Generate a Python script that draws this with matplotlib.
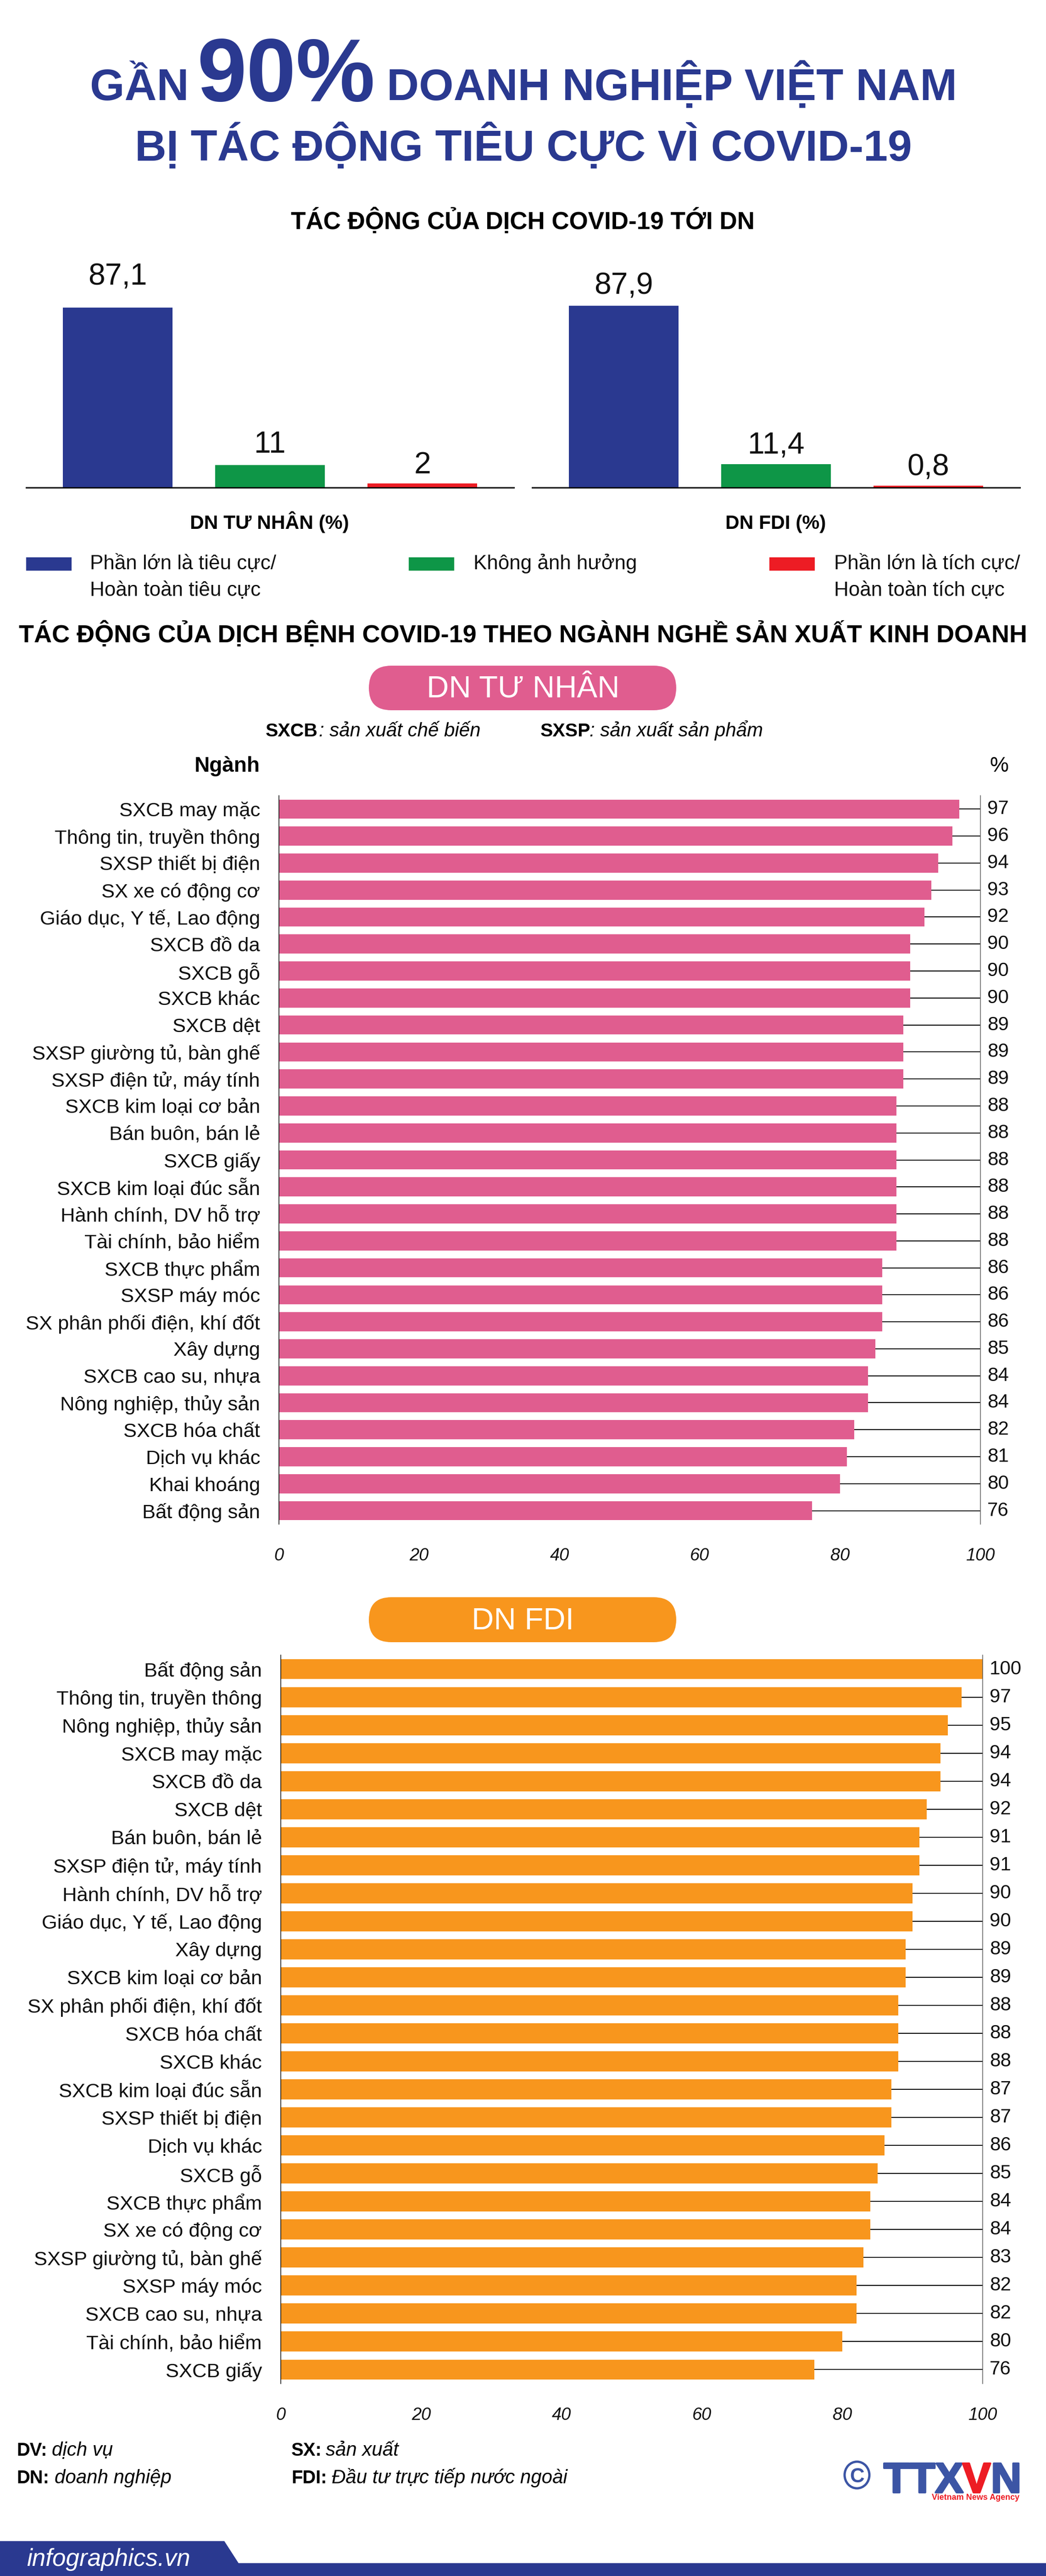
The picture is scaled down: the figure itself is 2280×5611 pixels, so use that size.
import matplotlib
matplotlib.use("Agg")
import matplotlib.pyplot as plt
import matplotlib.patheffects as pe
from matplotlib.patches import FancyBboxPatch, Polygon, Rectangle, Ellipse
from matplotlib.transforms import blended_transform_factory

W, H = 2280, 5611
DPI = 100
plt.rcParams['font.family'] = ['Liberation Sans', 'DejaVu Sans']

NAVY = '#2a3990'
GREEN = '#0e9647'
RED = '#ed1c24'
PINK = '#e05d8f'
ORANGE = '#f8961d'
LOGO = '#3c55a5'

# tong quan
impact_labels = ['Phần lớn là tiêu cực/\nHoàn toàn tiêu cực', 'Không ảnh hưởng', 'Phần lớn là tích cực/\nHoàn toàn tích cực']
private_impact = [87.1, 11, 2]
private_impact_text = ['87,1', '11', '2']
fdi_impact = [87.9, 11.4, 0.8]
fdi_impact_text = ['87,9', '11,4', '0,8']

# DN tu nhan
private_sectors = ['SXCB may mặc', 'Thông tin, truyền thông', 'SXSP thiết bị điện', 'SX xe có động cơ',
                   'Giáo dục, Y tế, Lao động', 'SXCB đồ da', 'SXCB gỗ', 'SXCB khác', 'SXCB dệt',
                   'SXSP giường tủ, bàn ghế', 'SXSP điện tử, máy tính', 'SXCB kim loại cơ bản',
                   'Bán buôn, bán lẻ', 'SXCB giấy', 'SXCB kim loại đúc sẵn', 'Hành chính, DV hỗ trợ',
                   'Tài chính, bảo hiểm', 'SXCB thực phẩm', 'SXSP máy móc', 'SX phân phối điện, khí đốt',
                   'Xây dựng', 'SXCB cao su, nhựa', 'Nông nghiệp, thủy sản', 'SXCB hóa chất',
                   'Dịch vụ khác', 'Khai khoáng', 'Bất động sản']
private_values = [97, 96, 94, 93, 92, 90, 90, 90, 89, 89, 89, 88, 88, 88, 88, 88, 88, 86, 86, 86, 85, 84, 84, 82, 81, 80, 76]

# DN FDI
fdi_sectors = ['Bất động sản', 'Thông tin, truyền thông', 'Nông nghiệp, thủy sản', 'SXCB may mặc', 'SXCB đồ da',
               'SXCB dệt', 'Bán buôn, bán lẻ', 'SXSP điện tử, máy tính', 'Hành chính, DV hỗ trợ',
               'Giáo dục, Y tế, Lao động', 'Xây dựng', 'SXCB kim loại cơ bản', 'SX phân phối điện, khí đốt',
               'SXCB hóa chất', 'SXCB khác', 'SXCB kim loại đúc sẵn', 'SXSP thiết bị điện', 'Dịch vụ khác',
               'SXCB gỗ', 'SXCB thực phẩm', 'SX xe có động cơ', 'SXSP giường tủ, bàn ghế', 'SXSP máy móc',
               'SXCB cao su, nhựa', 'Tài chính, bảo hiểm', 'SXCB giấy']
fdi_values = [100, 97, 95, 94, 94, 92, 91, 91, 90, 90, 89, 89, 88, 88, 88, 87, 87, 86, 85, 84, 84, 83, 82, 82, 80, 76]

x_ticks = [0, 20, 40, 60, 80, 100]


def pt(px):
    return px * 72 / DPI


def axes_px(fig, left, top, right, bottom):
    return fig.add_axes([left / W, 1 - bottom / H, (right - left) / W, (bottom - top) / H])


def column_chart(fig, left, right, values, texts, pads):
    ax = axes_px(fig, left, 612, right, 1062)
    ax.bar(range(3), values, width=0.72, color=[NAVY, GREEN, RED])
    ax.set_xlim(-0.6, 2.6)
    ax.set_ylim(0, 100)
    ax.set_xticks([])
    ax.set_yticks([])
    for s in ['top', 'left', 'right']:
        ax.spines[s].set_visible(False)
    ax.spines['bottom'].set_linewidth(pt(3))
    for i, (v, t) in enumerate(zip(values, texts)):
        ax.annotate(t, (i, v), xytext=(0, pt(pads[i])), textcoords='offset points',
                    ha='center', va='baseline', fontsize=pt(66), color='#111111', annotation_clip=False)
    ax.patch.set_alpha(0)


def sector_chart(fig, left, top, right, bottom, sectors, values, color, bar_h):
    ax = axes_px(fig, left, top, right, bottom)
    y = list(range(len(sectors)))
    ax.hlines(y, values, 100, color='black', lw=pt(2), zorder=1)
    ax.barh(y, values, height=bar_h, color=color, zorder=2)
    ax.set_xlim(0, 100)
    ax.set_ylim(len(sectors) - 0.5, -0.5)
    ax.set_yticks(y)
    ax.set_yticklabels(sectors, fontsize=pt(43.5), color='#111111')
    ax.set_xticks(x_ticks)
    ax.set_xticklabels(x_ticks, fontsize=pt(38), style='italic', color='#111111')
    ax.tick_params(axis='both', length=0)
    ax.tick_params(axis='y', pad=pt(41))
    ax.tick_params(axis='x', pad=pt(51))
    for s in ['top', 'bottom']:
        ax.spines[s].set_visible(False)
    ax.spines['left'].set_linewidth(pt(1.5))
    ax.spines['right'].set_linewidth(pt(1.5))
    ax.spines['right'].set_color('#555555')
    trans = blended_transform_factory(ax.transAxes, ax.transData)
    for i, v in enumerate(values):
        ax.annotate(str(v), (1, i), xycoords=trans, xytext=(pt(15), 0), textcoords='offset points',
                    ha='left', va='center', fontsize=pt(42), color='#111111', annotation_clip=False)


fig = plt.figure(figsize=(W / DPI, H / DPI), dpi=DPI, facecolor='white')

# lop nen de ve chu va hinh trang tri, toa do theo pixel
bg = fig.add_axes([0, 0, 1, 1], zorder=5)
bg.set_xlim(0, W)
bg.set_ylim(H, 0)
bg.axis('off')
bg.patch.set_alpha(0)


def label(x, y, s, size, **kw):
    kw.setdefault('color', 'black')
    kw.setdefault('va', 'baseline')
    return bg.text(x, y, s, fontsize=pt(size), **kw)


# tieu de
label(196, 218, 'GẦN', 97, color=NAVY, weight='bold')
label(429, 220, '90%', 194, color=NAVY, weight='bold')
label(843, 218, 'DOANH NGHIỆP VIỆT NAM', 97, color=NAVY, weight='bold')
label(1141, 350, 'BỊ TÁC ĐỘNG TIÊU CỰC VÌ COVID-19', 95, color=NAVY, weight='bold', ha='center')
label(1139, 499, 'TÁC ĐỘNG CỦA DỊCH COVID-19 TỚI DN', 53, weight='bold', ha='center')

column_chart(fig, 57, 1120, private_impact, private_impact_text, [50, 26, 22])
column_chart(fig, 1160, 2223, fdi_impact, fdi_impact_text, [26, 23, 23])
label(587, 1152, 'DN TƯ NHÂN (%)', 42.5, weight='bold', ha='center')
label(1691, 1152, 'DN FDI (%)', 42.5, weight='bold', ha='center')

# chu thich
for lx, tx, c, txt in zip([57, 891, 1677], [196, 1032, 1818], [NAVY, GREEN, RED], impact_labels):
    bg.add_patch(Rectangle((lx, 1214), 99, 29, color=c, lw=0))
    for k, line in enumerate(txt.split('\n')):
        label(tx, 1240 + 58 * k, line, 44, color='#111111')

label(1140, 1399, 'TÁC ĐỘNG CỦA DỊCH BỆNH COVID-19 THEO NGÀNH NGHỀ SẢN XUẤT KINH DOANH', 54, weight='bold', ha='center')


def pill(top, bottom, color, text, base):
    r = (bottom - top) / 2
    bg.add_patch(FancyBboxPatch((804 + r, top + r), 670 - 2 * r, bottom - top - 2 * r,
                                boxstyle='round,pad=%f,rounding_size=%f' % (r, r), color=color, lw=0))
    label(1140, base, text, 67, color='white', ha='center')


pill(1450, 1547, PINK, 'DN TƯ NHÂN', 1520)
pill(3479, 3577, ORANGE, 'DN FDI', 3549)

label(579, 1604, 'SXCB', 41, weight='bold')
label(695, 1604, ': sản xuất chế biến', 42, style='italic')
label(1178, 1604, 'SXSP', 41, weight='bold')
label(1285, 1604, ': sản xuất sản phẩm', 42, style='italic')
label(567, 1681, 'Ngành', 46, weight='bold', ha='right')
label(2178, 1681, '%', 46, ha='center')

sector_chart(fig, 608, 1733, 2137, 3320, private_sectors, private_values, PINK, 0.71)
sector_chart(fig, 612, 3605, 2142, 5192, fdi_sectors, fdi_values, ORANGE, 0.72)

# ghi chu cuoi
for x, y, a, b, x2 in [(36, 5349, 'DV:', 'dịch vụ', 113), (635, 5349, 'SX:', 'sản xuất', 710),
                       (36, 5409, 'DN:', 'doanh nghiệp', 119), (635, 5409, 'FDI:', 'Đầu tư trực tiếp nước ngoài', 723)]:
    label(x, y, a, 40, weight='bold')
    label(x2, y, b, 42, style='italic')

# logo TTXVN
heavy = [pe.withStroke(linewidth=pt(4), foreground=LOGO)]
bg.add_patch(Ellipse((1868, 5391), 54, 58, fill=False, ec=LOGO, lw=pt(5)))
label(1868, 5407, 'C', 44, color=LOGO, weight='bold', ha='center')
label(1926, 5429, 'TTX', 92, color=LOGO, weight='bold', path_effects=heavy)
label(2098, 5429, 'V', 92, color=RED, weight='bold',
      path_effects=[pe.withStroke(linewidth=pt(4), foreground=RED)])
label(2160, 5429, 'N', 92, color=LOGO, weight='bold', path_effects=heavy)
bg.add_patch(Ellipse((2120, 5395), 22, 50, angle=25, fill=False, ec='white', lw=pt(3)))
label(2222, 5445, 'Vietnam News Agency', 18, color=RED, weight='bold', ha='right')

# chan trang
bg.add_patch(Polygon([(0, 5535), (489, 5535), (520, 5583), (W, 5583), (W, H), (0, H)], closed=True, color=NAVY, lw=0))
label(58, 5589, 'infographics.vn', 53, color='white', style='italic')

fig.savefig('out.png', dpi=DPI, facecolor='white')
